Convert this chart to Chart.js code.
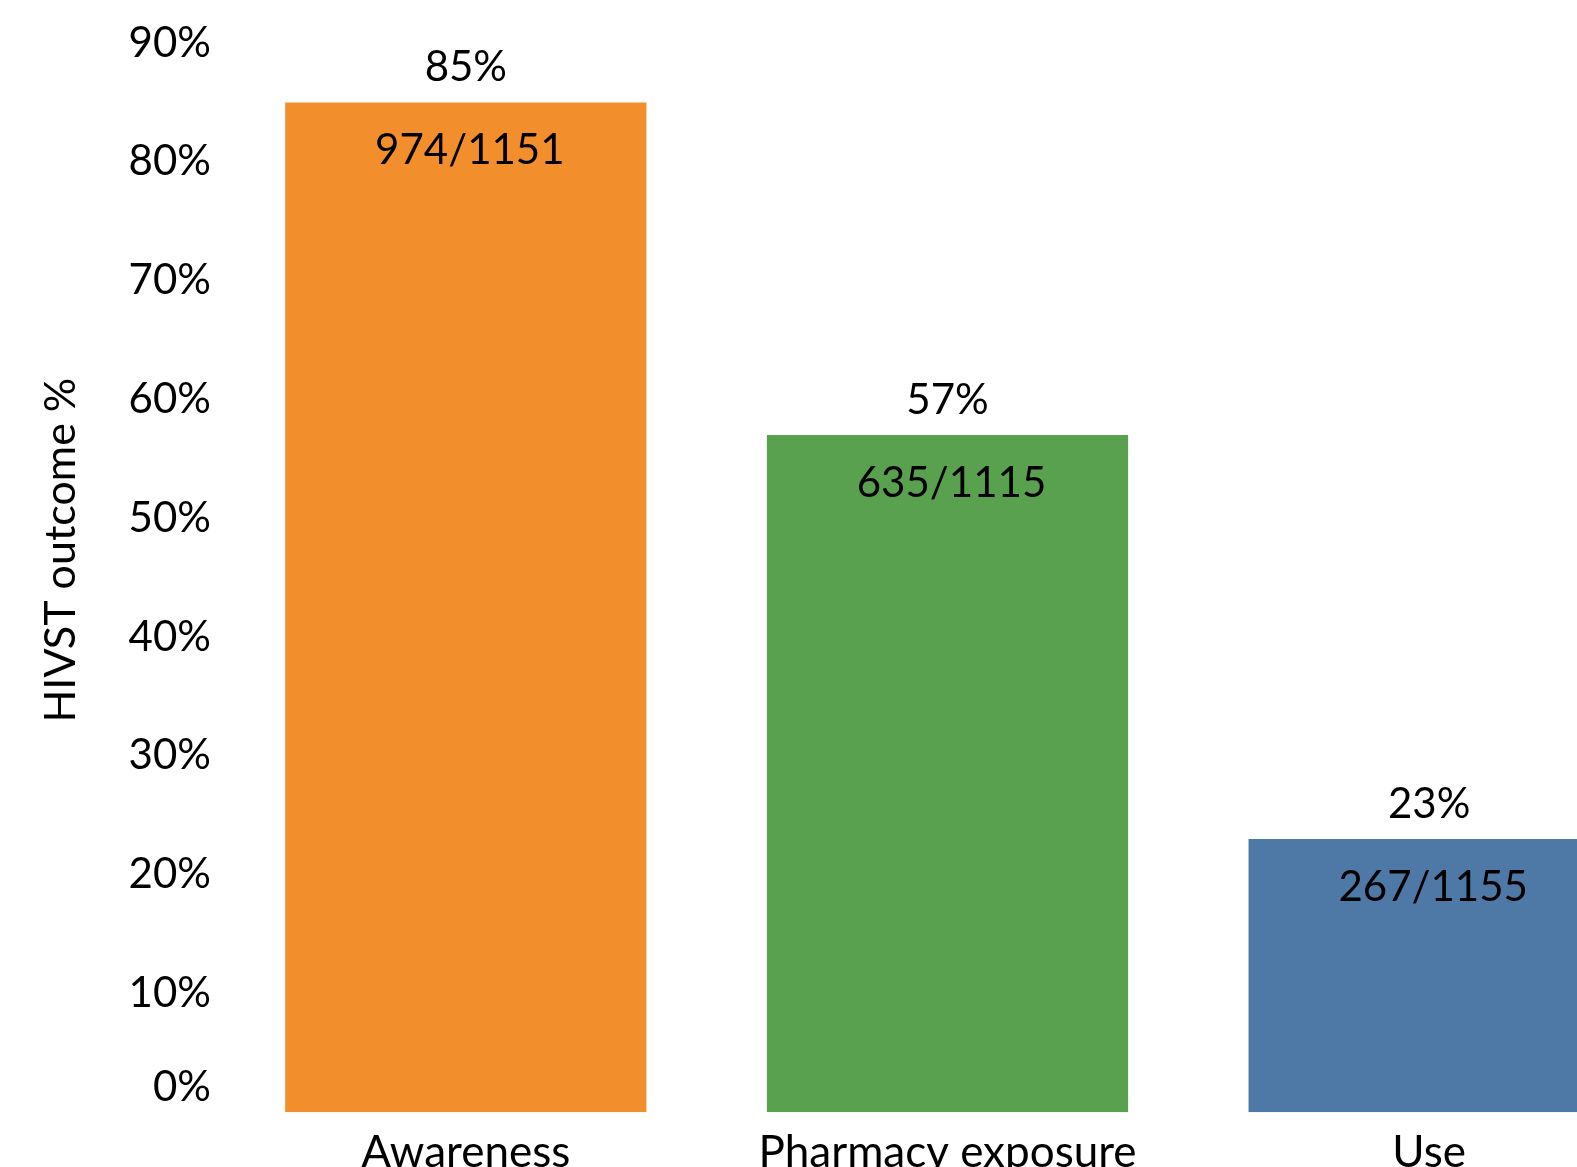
<!DOCTYPE html>
<html>
<head>
<meta charset="utf-8">
<script src="https://cdn.jsdelivr.net/npm/chart.js@4.4.1/dist/chart.umd.min.js"></script>
<style>
  html, body { margin: 0; padding: 0; background: #fff; overflow: hidden; }
  #wrap { width: 1670px; height: 1193px; position: relative; }
</style>
</head>
<body>
<div id="wrap"><canvas id="outcomeChart"></canvas></div>
<script>
// -- data --
const categories = ['Awareness', 'Pharmacy exposure', 'Use'];
const outcomePct = [85, 57, 23];
const pctLabels = ['85%', '57%', '23%'];
const countLabels = ['974/1151', '635/1115', '267/1155'];
const barColors = ['#F28E2C', '#59A14F', '#4E79A7'];
const yTicks = [0, 10, 20, 30, 40, 50, 60, 70, 80, 90];

const FONT = 'Lato, "Open Sans", sans-serif';

// -- draws the % above each bar and the n/N inside the top of the bar --
const barTextPlugin = {
    id: 'barText',
    afterDatasetsDraw(chart) {
        const ctx = chart.ctx;
        const meta = chart.getDatasetMeta(0);
        ctx.save();
        ctx.fillStyle = '#000';
        ctx.textAlign = 'center';
        ctx.textBaseline = 'middle';
        ctx.font = '42px ' + FONT;
        meta.data.forEach((bar, i) => {
            ctx.fillText(pctLabels[i], bar.x, bar.y - 35);
            ctx.fillText(countLabels[i], bar.x + 4, bar.y + 48);
        });
        ctx.restore();
    }
};

new Chart(document.getElementById('outcomeChart').getContext('2d'), {
    type: 'bar',
    data: {
        labels: categories,
        datasets: [{
            data: outcomePct,
            backgroundColor: barColors,
            borderWidth: 0,
            categoryPercentage: 1.0,
            barPercentage: 0.75
        }]
    },
    options: {
        responsive: true,
        maintainAspectRatio: false,
        animation: false,
        events: [],
        layout: { padding: { top: 43, left: 21, right: 0, bottom: 0 } },
        plugins: {
            legend: { display: false },
            tooltip: { enabled: false }
        },
        scales: {
            x: {
                grid: { display: false, drawTicks: false },
                border: { display: false },
                ticks: {
                    color: '#000',
                    padding: 14,
                    font: { family: FONT, size: 44 },
                    maxRotation: 0,
                    autoSkip: false
                }
            },
            y: {
                min: 0,
                max: 90,
                afterBuildTicks: axis => { axis.ticks = yTicks.map(v => ({ value: v })); },
                grid: { display: false, drawTicks: false },
                border: { display: false },
                ticks: {
                    color: '#000',
                    padding: 14,
                    font: { family: FONT, size: 42 },
                    //-- 0% sits a bit above its tick in the original, an empty 2nd line lifts it --
                    callback: v => v === 0 ? ['0%', ''] : v + '%'
                },
                title: {
                    display: true,
                    //-- leading spaces push the centred title up a little, like the original --
                    text: '     HIVST outcome %',
                    color: '#000',
                    font: { family: FONT, size: 43 },
                    padding: { top: 14, bottom: 28 }
                }
            }
        }
    },
    plugins: [barTextPlugin]
});
</script>
</body>
</html>
